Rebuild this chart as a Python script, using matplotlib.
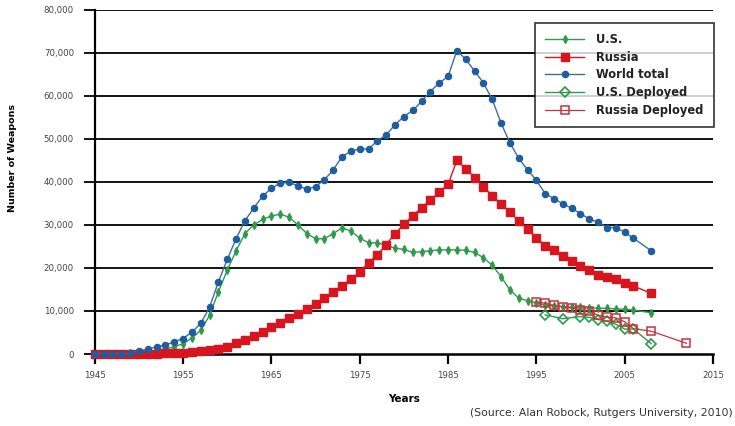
import matplotlib
matplotlib.use("Agg")
import matplotlib.pyplot as plt
from matplotlib.ticker import FuncFormatter

# ── DATA ───────────────────────────────────────────────
# 2007 is not plotted in the source chart
YEARS = list(range(1945, 2007)) + [2008]

US = [
    0, 10, 15, 50, 170, 300, 440, 840, 1170, 1700,            # 1945-1954
    2400, 3700, 5500, 9000, 14500, 19500, 24000, 28000, 30000, 31300,  # 1955-1964
    32100, 32500, 31800, 30000, 28000, 26800, 26800, 28000, 29300, 28600,  # 1965-1974
    26900, 25900, 25800, 25300, 24600, 24300, 23600, 23800, 24000, 24200,  # 1975-1984
    24200, 24200, 24100, 23600, 22400, 20600, 18000, 14900, 13000, 12400,  # 1985-1994
    11900, 11400, 11150, 11000, 10850, 10850, 10750, 10650, 10600, 10500,  # 1995-2004
    10400, 10200, 9600,                                        # 2005, 2006, 2008
]

RUSSIA = [
    0, 0, 0, 0, 1, 5, 25, 50, 120, 150,
    200, 430, 660, 870, 1060, 1600, 2500, 3300, 4200, 5200,
    6300, 7200, 8300, 9400, 10500, 11600, 13100, 14500, 15900, 17400,
    19100, 21200, 23100, 25400, 28000, 30100, 32100, 34000, 35800, 37600,
    39400, 45000, 43100, 41000, 38900, 36800, 34900, 32900, 31000, 29000,
    27000, 25200, 24100, 22800, 21700, 20500, 19500, 18400, 17800, 17400,
    16600, 15800, 14100,
]

WORLD = [
    0, 10, 15, 50, 170, 760, 1090, 1700, 2090, 2870,
    3600, 5100, 7100, 10900, 16800, 22000, 26800, 31000, 33900, 36700,
    38500, 39700, 39900, 39100, 38300, 38900, 40500, 42800, 45900, 47100,
    47700, 47600, 49600, 50900, 53300, 55200, 56600, 58700, 61000, 63000,
    64500, 70500, 68500, 65800, 63000, 59200, 53700, 49100, 45500, 42800,
    40400, 37300, 36100, 34900, 33900, 32600, 31400, 30600, 29400, 29400,
    28300, 26900, 24000,
]

US_DEP_YEARS = [1996, 1998, 2000, 2001, 2002, 2003, 2004, 2005, 2006, 2008]
US_DEP = [9100, 8200, 8700, 8500, 8000, 7600, 6900, 5800, 5800, 2400]

RU_DEP_YEARS = list(range(1995, 2007)) + [2008, 2012]
RU_DEP = [12100, 11800, 11300, 11000, 10700, 10300, 9900, 9000, 8600, 8400,
          7500, 5900, 5300, 2500]

X_TICKS = [1945, 1955, 1965, 1975, 1985, 1995, 2005, 2015]
Y_TICKS = list(range(0, 80001, 10000))

# ── STYLE ──────────────────────────────────────────────
GREEN = "#2f9a4c"
RED = "#d8141f"
BLUE = "#1f5e9e"
plt.rcParams["font.family"] = ["DejaVu Sans"]

fig = plt.figure(figsize=(7.35, 4.26), dpi=100)
ax = fig.add_axes([0.129, 0.169, 0.841, 0.808])

ax.set_xlim(1945, 2015)
ax.set_ylim(0, 80000)

# grid (black horizontal lines)
for v in Y_TICKS[1:]:
    ax.axhline(v, color="black", lw=1.3, zorder=1)

common = dict(clip_on=False, zorder=3)
ax.plot(YEARS, US, color=GREEN, lw=1, marker="d", ms=4.2,
        mfc=GREEN, mec=GREEN, label="U.S.", **common)
ax.plot(YEARS, RUSSIA, color=RED, lw=1, marker="s", ms=6,
        mfc=RED, mec=RED, label="Russia", **common)
ax.plot(YEARS, WORLD, color="#3f6d9c", lw=1, marker="o", ms=4.4,
        mfc=BLUE, mec=BLUE, label="World total", **common)
ax.plot(US_DEP_YEARS, US_DEP, color=GREEN, lw=1, marker="D", ms=5.5,
        mfc="none", mec=GREEN, mew=1.2, label="U.S. Deployed", **common)
ax.plot(RU_DEP_YEARS, RU_DEP, color="#c8323c", lw=0.9, marker="s", ms=6,
        mfc="none", mec="#c8323c", mew=1.1, label="Russia Deployed", **common)

# ── AXES ───────────────────────────────────────────────
for s in ["top", "right"]:
    ax.spines[s].set_visible(False)
ax.spines["left"].set_linewidth(1.6)
ax.spines["bottom"].set_linewidth(1.8)
ax.spines["left"].set_zorder(2)

ax.set_xticks(X_TICKS)
ax.set_yticks(Y_TICKS)
ax.yaxis.set_major_formatter(FuncFormatter(lambda v, p: f"{int(v):,}"))
ax.tick_params(axis="y", direction="out", length=8, width=1.3,
               labelsize=6.2, labelcolor="#444444", pad=7)
ax.tick_params(axis="x", direction="out", length=7, width=1.6,
               labelsize=6.2, labelcolor="#444444", pad=5)

ax.set_xlabel("Years", fontsize=7.5, fontweight="bold", labelpad=10)
fig.text(0.017, 0.63, "Number of Weapons", rotation=90, fontsize=6.8,
         fontweight="bold", ha="center", va="center")

fig.text(0.997, 0.03, "(Source: Alan Robock, Rutgers University, 2010)",
         fontsize=7.8, color="#333333", ha="right", va="center")

leg = ax.legend(loc="upper left", bbox_to_anchor=(0.712, 0.962),
                frameon=True, fancybox=False, fontsize=8.3, borderpad=0.9,
                labelspacing=0.4, handlelength=3.4, handletextpad=1.0,
                borderaxespad=0)
leg.get_frame().set_edgecolor("black")
leg.get_frame().set_linewidth(1.2)
leg.set_zorder(5)
for t in leg.get_texts():
    t.set_fontweight("bold")
    t.set_color("#222222")

fig.savefig("out.png", dpi=100)
